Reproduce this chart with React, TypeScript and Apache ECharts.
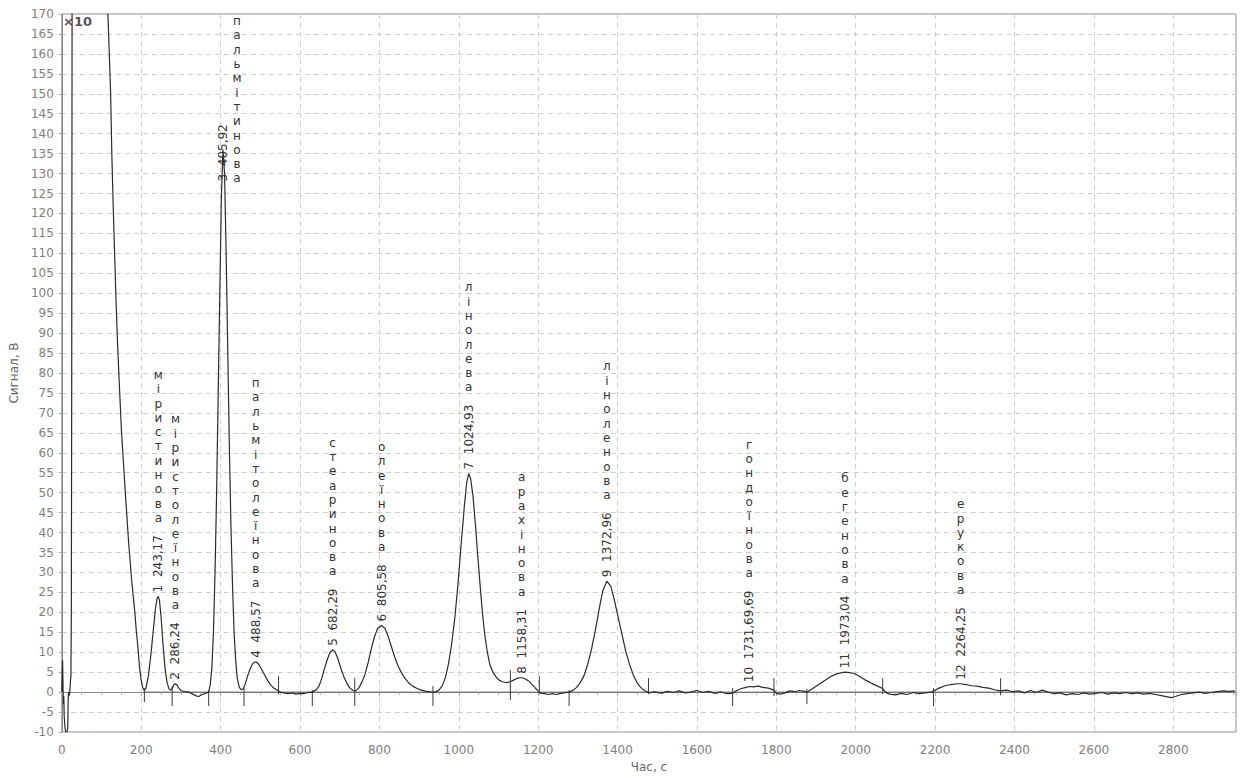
import React, { useEffect, useRef } from 'react';
import * as echarts from 'echarts';

// Detector trace: [time, s ; signal, V]
const trace: [number, number][] = [
  [0, 0], [1, 5], [2, 8], [3, 2], [4, -3], [5, -1], [6, -6], [8, -9], [10, -10], [13, -10], [15, -9],
  [16, -2], [17, 0], [18, -1], [20, 0], [22, 3], [23, 4], [24, 20], [25, 80], [26, 180],
  [115, 172], [116, 170], [118, 165], [123, 150], [126, 135], [130, 120], [133, 110], [137, 97],
  [141, 86], [145, 77], [150, 66], [155, 58], [160, 50], [164, 44], [168, 38], [172, 33], [176, 28],
  [180, 24], [184, 20], [188, 15], [192, 11], [196, 6], [200, 3], [204, 1], [208, 0.5],
  [212, 1], [218, 4], [224, 9], [230, 15], [236, 21], [240, 23.5], [243, 24], [246, 23], [250, 19],
  [255, 12], [260, 6], [265, 2.5], [270, 0.8], [274, 0.5],
  [278, 1], [282, 1.8], [286, 2.1], [290, 1.8], [295, 1], [300, 0.4], [310, 0.1], [320, 0],
  [330, -0.5], [340, -1], [345, -1.1], [350, -0.8], [358, -0.4], [365, -0.2], [370, 0],
  [374, 2], [378, 6], [382, 15], [386, 30], [390, 50], [394, 75], [398, 100], [402, 124], [406, 136],
  [410, 130], [414, 110], [418, 86], [422, 62], [426, 42], [430, 27], [434, 15], [438, 8], [442, 3.5],
  [447, 1.2], [452, 0.6], [457, 0.8],
  [462, 2], [468, 4], [475, 6], [482, 7.3], [489, 7.6], [496, 7], [503, 5.8], [510, 4.5], [518, 3],
  [526, 1.8], [534, 1], [542, 0.5], [550, 0], [560, -0.2], [570, -0.4], [580, -0.2], [590, -0.5],
  [600, -0.3], [610, -0.4], [620, -0.1], [630, 0],
  [640, 0.5], [648, 1.5], [655, 3.5], [662, 6], [670, 8.5], [676, 10], [682, 10.6], [688, 10.2],
  [695, 8.5], [702, 6.3], [710, 4], [718, 2.2], [726, 1], [734, 0.4], [740, 0.3],
  [748, 1], [756, 2.5], [764, 4.5], [772, 7.5], [780, 11], [788, 14], [796, 16], [805, 16.7],
  [814, 16], [822, 14], [830, 11.5], [838, 9], [846, 6.8], [855, 5], [864, 3.5], [874, 2.3],
  [884, 1.5], [895, 0.9], [906, 0.5], [918, 0.2], [930, 0],
  [940, 0], [950, 0.5], [958, 1.5], [966, 3.5], [974, 7], [982, 12], [990, 18.5], [998, 27],
  [1006, 37], [1014, 46.5], [1020, 52.5], [1025, 54.8], [1030, 53.5], [1036, 49], [1042, 42],
  [1048, 34], [1054, 26.5], [1060, 19.5], [1066, 14], [1072, 10], [1078, 7], [1086, 5], [1094, 3.8],
  [1102, 3], [1110, 2.6], [1118, 2.4], [1126, 2.5], [1130, 2.6],
  [1138, 3], [1146, 3.4], [1154, 3.6], [1160, 3.6], [1168, 3.3], [1176, 2.8], [1184, 2], [1192, 1.1],
  [1200, 0.3], [1208, -0.3], [1216, -0.4], [1226, -0.6], [1236, -0.4], [1246, -0.6], [1256, -0.3],
  [1266, -0.2], [1276, 0],
  [1285, 0.3], [1295, 1], [1305, 2.2], [1315, 4], [1325, 7], [1335, 11], [1345, 16], [1355, 21.5],
  [1363, 25.5], [1373, 27.8], [1383, 26.5], [1391, 23.5], [1400, 19.5], [1410, 15], [1420, 10.5],
  [1430, 7], [1440, 4.2], [1450, 2.2], [1460, 1], [1470, 0.3], [1480, -0.2],
  [1495, 0.1], [1510, -0.3], [1525, 0.2], [1540, -0.1], [1555, 0.3], [1570, -0.2], [1585, 0],
  [1600, 0.4], [1615, -0.1], [1630, 0.2], [1645, -0.3], [1660, 0.1], [1675, -0.4], [1690, -0.3],
  [1700, 0.4], [1712, 0.9], [1724, 1.2], [1732, 1.4], [1742, 1.3], [1754, 1.5], [1766, 1.2],
  [1780, 1], [1794, 0.5], [1800, -0.3], [1810, -0.5], [1822, -0.2], [1834, 0.3], [1846, 0.1],
  [1858, 0.4], [1870, 0.2], [1878, 0],
  [1890, 0.8], [1905, 1.8], [1920, 2.8], [1935, 3.8], [1950, 4.5], [1962, 4.8], [1973, 5],
  [1985, 4.9], [1998, 4.6], [2010, 3.9], [2025, 3], [2040, 2.2], [2055, 1.5], [2068, 0.9],
  [2075, 0], [2085, -0.5], [2100, -0.7], [2115, -0.3], [2130, -0.6], [2145, -0.1], [2160, -0.4],
  [2175, -0.2], [2190, 0], [2196, 0.3],
  [2210, 1], [2225, 1.6], [2240, 1.9], [2255, 2.1], [2264, 2.1], [2278, 1.9], [2292, 1.6],
  [2306, 1.5], [2320, 1.2], [2335, 1], [2350, 0.6], [2365, 0.3], [2380, 0.5], [2395, 0.1],
  [2410, 0.3], [2425, -0.2], [2440, 0.4], [2455, -0.1], [2470, 0.5], [2485, 0], [2500, -0.4],
  [2515, -0.2], [2530, -0.7], [2545, -0.4], [2560, -0.6], [2575, -0.2], [2590, -0.5], [2605, -0.3],
  [2620, -0.1], [2635, -0.5], [2650, -0.2], [2665, -0.4], [2680, -0.1], [2695, -0.4], [2710, -0.2],
  [2725, -0.5], [2740, -0.3], [2755, -0.6], [2770, -0.9], [2785, -1.2], [2795, -1.4], [2805, -1.1],
  [2820, -0.6], [2835, -0.4], [2850, -0.2], [2865, 0], [2880, -0.3], [2895, -0.1], [2910, 0.1],
  [2925, 0.3], [2940, 0.2], [2955, 0.3],
];

const baselineStart = 205;
const timeMax = 2958;

const boundaryTimes = [208, 278, 370, 459, 546, 631, 738, 935, 1130, 1203, 1278, 1478, 1690, 1794, 1877, 2068, 2196, 2365];
const boundaryLow = [-2, -3, -3, -3, 0, -3, -3, -3, -1.5, 0, -3, 0, -3, -0.5, -2.5, 0, -3, -0.3];
const boundaryHigh = [0.5, 1, 0, 0.5, 3.5, 0, 3, 1, 5, 3.5, 0, 3, 0.5, 3, 0.3, 3, 0.5, 3];

const peakNumbers = [1, 2, 3, 4, 5, 6, 7, 8, 9, 10, 11, 12];
const peakTimes = [243.17, 286.24, 405.92, 488.57, 682.29, 805.58, 1024.93, 1158.31, 1372.96, 1731.69, 1973.04, 2264.25];
const peakHeights = [24, 2.1, 127, 7.6, 10.6, 16.7, 54.8, 3.6, 27.8, 1.5, 5, 2.1];
const peakTimeLabels = ['243,17', '286,24', '405,92', '488,57', '682,29', '805,58', '1024,93', '1158,31', '1372,96', '1731,69,69', '1973,04', '2264,25'];
const acidNames = [
  'міристинова', 'міристолеїнова', 'пальмітинова', 'пальмітолеїнова', 'стеаринова', 'олеїнова',
  'лінолева', 'арахінова', 'ліноленова', 'гондоїнова', 'бегенова', 'ерукова',
];

const FONT = "'DejaVu Sans', Verdana, sans-serif";

let measureCtx: CanvasRenderingContext2D | null = null;
function textWidth(s: string): number {
  if (!measureCtx) measureCtx = document.createElement('canvas').getContext('2d');
  if (!measureCtx) return s.length * 7;
  measureCtx.font = `12px ${FONT}`;
  return measureCtx.measureText(s).width;
}

export default function App() {
  const ref = useRef<HTMLDivElement>(null);
  useEffect(() => {
    if (!ref.current) return;
    const chart = echarts.init(ref.current, undefined, { renderer: 'svg' });
    const letterStep = 14.3;
    const option: any = {
      animation: false,
      backgroundColor: '#ffffff',
      grid: { left: 60, right: 5, top: 14, bottom: 45, show: true, borderColor: '#8a8a8a', borderWidth: 1 },
      xAxis: {
        type: 'value', min: 0, max: timeMax, interval: 200,
        name: 'Час, с', nameLocation: 'middle', nameGap: 29,
        nameTextStyle: { color: '#666', fontSize: 12, fontFamily: FONT },
        axisLine: { show: true, lineStyle: { color: '#8a8a8a' } },
        axisTick: { show: true, length: 4, lineStyle: { color: '#aaa' } },
        minorTick: { show: true, splitNumber: 4, length: 3, lineStyle: { color: '#bbb' } },
        axisLabel: {
          color: '#808080', fontSize: 12, fontFamily: FONT, margin: 12, showMaxLabel: false,
          formatter: (v: number) => String(v),
        },
        splitLine: { show: true, lineStyle: { color: '#cfcfcf', type: [5, 4] } },
      },
      yAxis: {
        type: 'value', min: -10, max: 170, interval: 5,
        name: 'Сигнал, В', nameLocation: 'middle', nameGap: 36,
        nameTextStyle: { color: '#666', fontSize: 12, fontFamily: FONT },
        axisLine: { show: true, lineStyle: { color: '#8a8a8a' } },
        axisTick: { show: true, length: 3, lineStyle: { color: '#aaa' } },
        axisLabel: { color: '#808080', fontSize: 12, fontFamily: FONT, margin: 8, formatter: (v: number) => String(v) },
        splitLine: { show: true, lineStyle: { color: '#cfcfcf', type: [5, 4] } },
      },
      graphic: [
        { type: 'text', left: 63, top: 15, style: { text: '×10', fill: '#555', font: `bold 13px ${FONT}` } },
      ],
      series: [
        {
          type: 'line', name: 'baseline', data: [[baselineStart, 0], [timeMax, 0]],
          symbol: 'none', lineStyle: { color: '#6a6a6a', width: 1 }, silent: true, z: 2,
        },
        {
          type: 'line', name: 'signal', data: trace, symbol: 'none', clip: true,
          lineStyle: { color: '#2b2b2b', width: 1.2 }, silent: true, z: 3,
        },
        {
          type: 'custom', name: 'boundaries', silent: true, z: 4,
          data: boundaryTimes.map((t, i) => [t, boundaryLow[i], boundaryHigh[i]]),
          renderItem: (params: any, api: any) => {
            const p1 = api.coord([api.value(0), api.value(1)]);
            const p2 = api.coord([api.value(0), api.value(2)]);
            return {
              type: 'line',
              shape: { x1: p1[0], y1: p1[1] + 2, x2: p2[0], y2: p2[1] - 2 },
              style: { stroke: '#3a3a3a', lineWidth: 1 },
            };
          },
        },
        {
          type: 'custom', name: 'peaks', silent: true, clip: false, z: 5,
          data: peakTimes.map((t, i) => [t, peakHeights[i]]),
          renderItem: (params: any, api: any) => {
            const i = params.dataIndex;
            const p = api.coord([api.value(0), api.value(1)]);
            const numText = `${peakNumbers[i]}  ${peakTimeLabels[i]}`;
            const numBottom = p[1] - 4;
            const numTop = numBottom - textWidth(numText);
            const letters = Array.from(acidNames[i]);
            const nameH = letters.length * letterStep;
            let nameBottom = numTop - 10;
            let nameX = p[0];
            const top = params.coordSys.y;
            if (nameBottom - nameH < top) {
              nameBottom = top + nameH;
              nameX = p[0] + 14;
            }
            return {
              type: 'group',
              children: [
                {
                  type: 'text', x: p[0], y: numBottom, rotation: Math.PI / 2,
                  style: { text: numText, fill: '#333', font: `12px ${FONT}`, align: 'left', verticalAlign: 'middle' },
                },
                {
                  type: 'text', x: nameX, y: nameBottom,
                  style: {
                    text: letters.join('\n'), fill: '#333', font: `12px ${FONT}`,
                    align: 'center', verticalAlign: 'bottom', lineHeight: letterStep,
                  },
                },
              ],
            };
          },
        },
      ],
    };
    chart.setOption(option);
    return () => chart.dispose();
  }, []);
  return <div ref={ref} style={{ position: 'fixed', left: 0, top: 0, width: 1241, height: 778 }} />;
}
